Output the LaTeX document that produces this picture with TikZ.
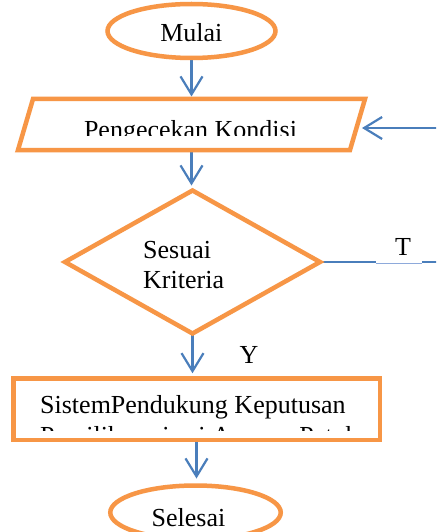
\documentclass[tikz,border=0pt]{standalone}
\usepackage{fontspec}
\setmainfont{Liberation Serif}
\usetikzlibrary{arrows.meta,shapes.geometric}
\definecolor{fcorange}{HTML}{F79646}
\definecolor{fcblue}{HTML}{4A7EBB}
\definecolor{fcthin}{HTML}{8EAADB}
\pgfdeclarelayer{back}
\pgfsetlayers{back,main}
\begin{document}
\begin{tikzpicture}[x=1pt,y=-1pt,
  shapeline/.style={draw=fcorange, line width=4.5pt, inner sep=0pt, outer sep=0pt},
  anchorbox/.style={inner sep=0pt, outer sep=0pt},
  flow/.style={draw=fcblue, line width=2.2pt, -{Straight Barb[length=18pt,width=22pt]}},
  txt/.style={font=\fontsize{26}{30}\selectfont, inner sep=0pt, anchor=base},
]
\useasboundingbox (0,0) rectangle (436,532);
\clip (0,0) rectangle (436,532);

% shapes
\node[shapeline, ellipse, minimum width=168pt, minimum height=54pt] (mulai) at (191.5,31) {};
\node[anchorbox, minimum width=332pt, minimum height=51pt] (cek) at (191.5,124.5) {};
\draw[shapeline, line join=miter]
  ([xshift=7.5pt]cek.north west) -- ([xshift=7.5pt]cek.north east) --
  ([xshift=-7.5pt]cek.south east) -- ([xshift=-7.5pt]cek.south west) -- cycle;
\node[shapeline, diamond, minimum width=255pt, minimum height=143pt] (dec) at (192.5,262) {};
\node[shapeline, rectangle, minimum width=366.5pt, minimum height=61.5pt] (sistem) at (196.5,409) {};
\node[shapeline, ellipse, minimum width=170.5pt, minimum height=54pt] (selesai) at (195.5,512.5) {};

% texts
\node[txt] (mulaitext) at (191.3,42) {Mulai};
\begin{scope}
  \clip (20,100) rectangle (364,135.5);
  \node[txt] (cektext) at (190.5,139) {Pengecekan Kondisi};
\end{scope}
\node[txt, anchor=base west] (dectext1) at (143,258) {Sesuai};
\node[txt, anchor=base west] (dectext2) at (143,288) {Kriteria};
\begin{scope}
  \clip (16,380) rectangle (378,430.5);
  \node[txt, anchor=base west] (sistext1) at (40,413) {SistemPendukung Keputusan};
  \node[txt, anchor=base west] (sistext2) at (40,444) {Pemilihan siswi Asrama Patuh};
\end{scope}
\node[txt] (selesaitext) at (188.5,526) {Selesai};
\node[txt] (tlabel) at (403,255) {T};
\node[txt] (ylabel) at (249,363.5) {Y};

% connectors
\begin{pgfonlayer}{back}
\fill[white] (0,0) rectangle (436,532);
\clip (0,0) rectangle (436,532);
\draw[flow] (mulai.south) -- ([yshift=2.5pt]mulai.south |- cek.north);
\draw[flow] (cek.south) -- ([yshift=5pt]cek.south |- dec.north);
\draw[flow] (dec.south) -- ([yshift=5pt]dec.south |- sistem.north);
\draw[flow] (sistem.south) -- ([yshift=7pt]sistem.south |- selesai.north);
\draw[flow] (dec.east) -- (470,262) -- (470,128) -- ([xshift=4.5pt,yshift=-3.5pt]cek.east);
\end{pgfonlayer}
\draw[white, line width=2.6pt] (376,262) -- (422,262);
\draw[fcthin, line width=1pt] (376,263.3) -- (422,263.3);
\end{tikzpicture}
\end{document}
